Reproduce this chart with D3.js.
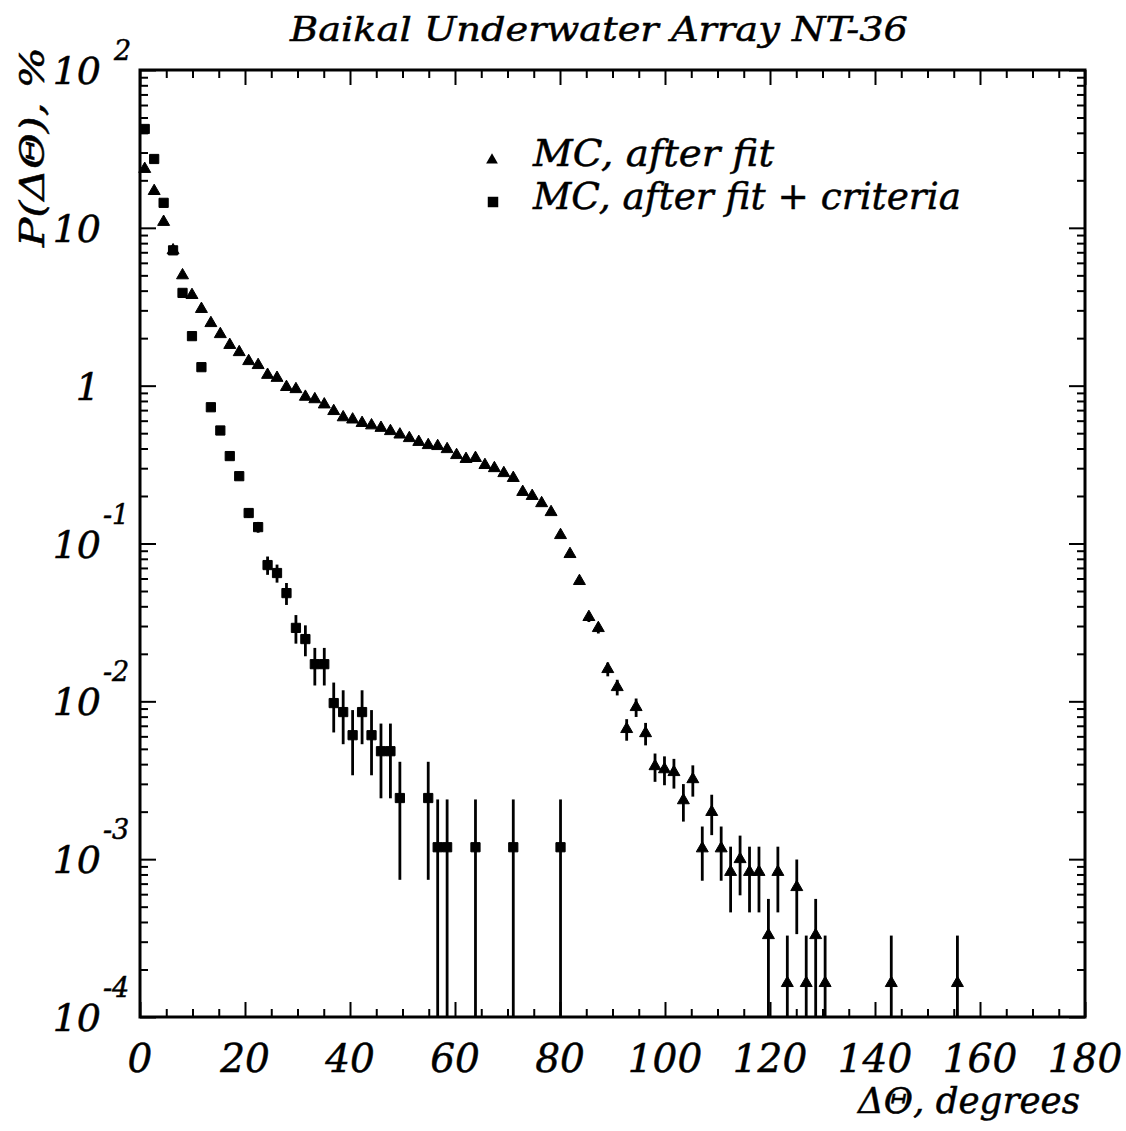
<!DOCTYPE html>
<html lang="en">
<head>
<meta charset="utf-8">
<title>Baikal Underwater Array NT-36</title>
<script src="https://cdn.jsdelivr.net/npm/d3@7"></script>
<style>
  body { margin: 0; background: #fff; }
  text { font-family: "DejaVu Serif", "Liberation Serif", serif; font-style: italic; fill: #000;
         stroke: #000; stroke-width: 0.5px; }
</style>
</head>
<body>
<div id="chart"></div>
<script>
// bin centres (degrees) and P(dTheta) in %
var fitX = [0.9, 2.7, 4.5, 6.3, 8.1, 9.9, 11.7, 13.5, 15.3, 17.1, 18.9, 20.7, 22.5, 24.3, 26.1, 27.9, 29.7, 31.5, 33.3, 35.1,
            36.9, 38.7, 40.5, 42.3, 44.1, 45.9, 47.7, 49.5, 51.3, 53.1, 54.9, 56.7, 58.5, 60.3, 62.1, 63.9, 65.7, 67.5, 69.3, 71.1,
            72.9, 74.7, 76.5, 78.3, 80.1, 81.9, 83.7, 85.5, 87.3, 89.1, 90.9, 92.7, 94.5, 96.3, 98.1, 99.9, 101.7, 103.5, 105.3, 107.1,
            108.9, 110.7, 112.5, 114.3, 116.1, 117.9, 119.7, 121.5, 123.3, 125.1, 126.9, 128.7, 130.5, 143.1, 155.7];
var fitY = [23.6, 17.1, 10.9, 7.2, 5.0, 3.75, 3.06, 2.49, 2.12, 1.81,
            1.63, 1.43, 1.35, 1.17, 1.12, 0.98, 0.95, 0.85, 0.82, 0.76,
            0.69, 0.63, 0.61, 0.58, 0.56, 0.54, 0.515, 0.49, 0.465, 0.44,
            0.42, 0.414, 0.396, 0.363, 0.343, 0.348, 0.314, 0.30, 0.279, 0.26,
            0.212, 0.20, 0.18, 0.158, 0.113, 0.0857, 0.0578, 0.0342, 0.0291, 0.016,
            0.0123, 0.00667, 0.00919, 0.00628, 0.00388, 0.00371, 0.00356, 0.00236, 0.00321, 0.00117,
            0.00199, 0.00117, 0.00083, 0.0010, 0.00083, 0.00083, 0.00033, 0.00083, 0.000164, 0.000665,
            0.000164, 0.00033, 0.000164, 0.000164, 0.000164];
var fitErr = [0.06, 0.05, 0.04, 0.03, 0.03, 0.02, 0.02, 0.02, 0.02, 0.02,
              0.015, 0.015, 0.015, 0.014, 0.014, 0.013, 0.012, 0.012, 0.012, 0.011,
              0.011, 0.01, 0.01, 0.01, 0.01, 0.009, 0.009, 0.009, 0.009, 0.008,
              0.008, 0.008, 0.008, 0.008, 0.0075, 0.0075, 0.007, 0.007, 0.007, 0.0065,
              0.006, 0.0057, 0.0054, 0.005, 0.0043, 0.0037, 0.0031, 0.0024, 0.0022, 0.0016,
              0.0014, 0.00104, 0.00123, 0.00102, 0.00079, 0.00077, 0.00076, 0.00063, 0.00072, 0.00044,
              0.00057, 0.00044, 0.00037, 0.00041, 0.00037, 0.00037, 0.00023, 0.00037, 0.000164, 0.00033,
              0.000164, 0.00023, 0.000164, 0.000164, 0.000164];

var critX = [0.9, 2.7, 4.5, 6.3, 8.1, 9.9, 11.7, 13.5, 15.3, 17.1, 18.9, 20.7, 22.5, 24.3, 26.1, 27.9, 29.7,
             31.5, 33.3, 35.1, 36.9, 38.7, 40.5, 42.3, 44.1, 45.9, 47.7, 49.5, 54.9, 56.7, 58.5, 63.9, 71.1, 80.1];
var critY = [42.3, 27.3, 14.4, 7.2, 3.87, 2.06, 1.31, 0.73, 0.52, 0.358, 0.267, 0.156, 0.127, 0.073, 0.065, 0.0485, 0.0292,
             0.0248, 0.0172, 0.0172, 0.00975, 0.00855, 0.0061, 0.00855, 0.0061, 0.00483, 0.00483, 0.00244, 0.00244,
             0.00119, 0.00119, 0.00119, 0.00119, 0.00119];
var critErr = [0.2, 0.15, 0.1, 0.08, 0.06, 0.04, 0.03, 0.025, 0.02, 0.017, 0.015, 0.011, 0.01, 0.0097, 0.0085, 0.0077, 0.006,
               0.0055, 0.0046, 0.0046, 0.0034, 0.0032, 0.0027, 0.0032, 0.0027, 0.0024, 0.0024, 0.0017, 0.0017,
               0.0012, 0.0012, 0.0012, 0.0012, 0.0012];

var xTickLabels = [0, 20, 40, 60, 80, 100, 120, 140, 160, 180];
var yDecades = [1e2, 1e1, 1, 1e-1, 1e-2, 1e-3, 1e-4];
var yBase = ["10", "10", "1", "10", "10", "10", "10"];
var yExp = ["2", "", "", "-1", "-2", "-3", "-4"];

var width = 1126, height = 1131;
var mLeft = 140, mRight = 1085, mTop = 70, mBottom = 1017;

var svg = d3.select("#chart").append("svg")
    .attr("width", width)
    .attr("height", height);

var x = d3.scaleLinear().domain([0, 180]).range([mLeft, mRight]);
var y = d3.scaleLog().domain([1e-4, 1e2]).range([mBottom, mTop]);

// minor ticks: every 5 degrees, 2..9 per decade
var xMinor = d3.range(0, 181, 5).filter(function(d) { return d % 20 != 0; });
var yMinor = [];
yDecades.slice(1).forEach(function(dec) {
    for (var k = 2; k <= 9; k++) yMinor.push(dec * k);
});

function tickStyle(g) {
    g.select(".domain").remove();
    g.selectAll("line").attr("stroke", "#000").attr("stroke-width", 2);
    g.selectAll("text").remove();
}

svg.append("g").attr("transform", "translate(0," + mBottom + ")")
    .call(d3.axisBottom(x).tickValues(xTickLabels).tickSize(-15)).call(tickStyle);
svg.append("g").attr("transform", "translate(0," + mBottom + ")")
    .call(d3.axisBottom(x).tickValues(xMinor).tickSize(-8)).call(tickStyle);
svg.append("g").attr("transform", "translate(0," + mTop + ")")
    .call(d3.axisTop(x).tickValues(xTickLabels).tickSize(-15)).call(tickStyle);
svg.append("g").attr("transform", "translate(0," + mTop + ")")
    .call(d3.axisTop(x).tickValues(xMinor).tickSize(-8)).call(tickStyle);

svg.append("g").attr("transform", "translate(" + mLeft + ",0)")
    .call(d3.axisLeft(y).tickValues(yDecades).tickSize(-16)).call(tickStyle);
svg.append("g").attr("transform", "translate(" + mLeft + ",0)")
    .call(d3.axisLeft(y).tickValues(yMinor).tickSize(-8)).call(tickStyle);
svg.append("g").attr("transform", "translate(" + mRight + ",0)")
    .call(d3.axisRight(y).tickValues(yDecades).tickSize(-16)).call(tickStyle);
svg.append("g").attr("transform", "translate(" + mRight + ",0)")
    .call(d3.axisRight(y).tickValues(yMinor).tickSize(-8)).call(tickStyle);

svg.append("rect")
    .attr("x", mLeft).attr("y", mTop)
    .attr("width", mRight - mLeft).attr("height", mBottom - mTop)
    .attr("fill", "none").attr("stroke", "#000").attr("stroke-width", 3);

// tick labels
svg.selectAll(".xlab").data(xTickLabels).enter().append("text")
    .attr("class", "xlab")
    .attr("x", function(d) { return x(d); })
    .attr("y", 1072)
    .attr("text-anchor", "middle")
    .style("font-size", "39px")
    .text(function(d) { return d; });

svg.selectAll(".ylab").data(yDecades).enter().append("text")
    .attr("class", "ylab")
    .attr("x", function(d, i) { return yBase[i] == "1" ? 100 : 101; })
    .attr("y", function(d) { return y(d) + 14; })
    .attr("text-anchor", "end")
    .style("font-size", "38px")
    .text(function(d, i) { return yBase[i]; });

svg.selectAll(".yexp").data(yDecades).enter().append("text")
    .attr("class", "yexp")
    .attr("x", function(d, i) { return i == 0 ? 114 : 103; })
    .attr("y", function(d, i) { return y(d) + (i == 0 ? -10 : -20); })
    .style("font-size", "27px")
    .text(function(d, i) { return yExp[i]; });

// error bars, then markers
function drawSeries(xs, ys, es, symbol, size) {
    var pts = xs.map(function(d, i) { return {x: d, y: ys[i], e: es[i]}; });
    svg.append("g").selectAll("line").data(pts).enter().append("line")
        .attr("x1", function(d) { return x(d.x); })
        .attr("x2", function(d) { return x(d.x); })
        .attr("y1", function(d) { return d.y - d.e > 1e-4 ? y(d.y - d.e) : mBottom; })
        .attr("y2", function(d) { return y(d.y + d.e); })
        .attr("stroke", "#000").attr("stroke-width", 2.8);
    svg.append("g").selectAll("path").data(pts).enter().append("path")
        .attr("d", d3.symbol().type(symbol).size(size))
        .attr("transform", function(d) { return "translate(" + x(d.x) + "," + y(d.y) + ")"; })
        .attr("fill", "#000").attr("stroke", "#000").attr("stroke-width", 1);
}

drawSeries(fitX, fitY, fitErr, d3.symbolTriangle, 62);
drawSeries(critX, critY, critErr, d3.symbolSquare, 85);

// legend
svg.append("path").attr("d", d3.symbol().type(d3.symbolTriangle).size(60)())
    .attr("transform", "translate(492,160)");
svg.append("path").attr("d", d3.symbol().type(d3.symbolSquare).size(110)())
    .attr("transform", "translate(493,202)");
svg.append("text").attr("x", 533).attr("y", 166)
    .attr("textLength", 241).attr("lengthAdjust", "spacingAndGlyphs")
    .style("font-size", "37px").text("MC, after fit");
svg.append("text").attr("x", 533).attr("y", 209)
    .attr("textLength", 428).attr("lengthAdjust", "spacingAndGlyphs")
    .style("font-size", "37px").text("MC, after fit + criteria");

// titles
svg.append("text").attr("x", 290).attr("y", 41)
    .attr("textLength", 618).attr("lengthAdjust", "spacingAndGlyphs")
    .style("font-size", "34px").text("Baikal Underwater Array NT-36");

svg.append("text").attr("x", 1080).attr("y", 1113)
    .attr("text-anchor", "end")
    .attr("textLength", 222).attr("lengthAdjust", "spacingAndGlyphs")
    .style("font-size", "35px").text("\u0394\u0398, degrees");

svg.append("text")
    .attr("transform", "translate(44,247) rotate(-90)")
    .attr("textLength", 200).attr("lengthAdjust", "spacingAndGlyphs")
    .style("font-size", "34px").text("P(\u0394\u0398), %");
</script>
</body>
</html>
